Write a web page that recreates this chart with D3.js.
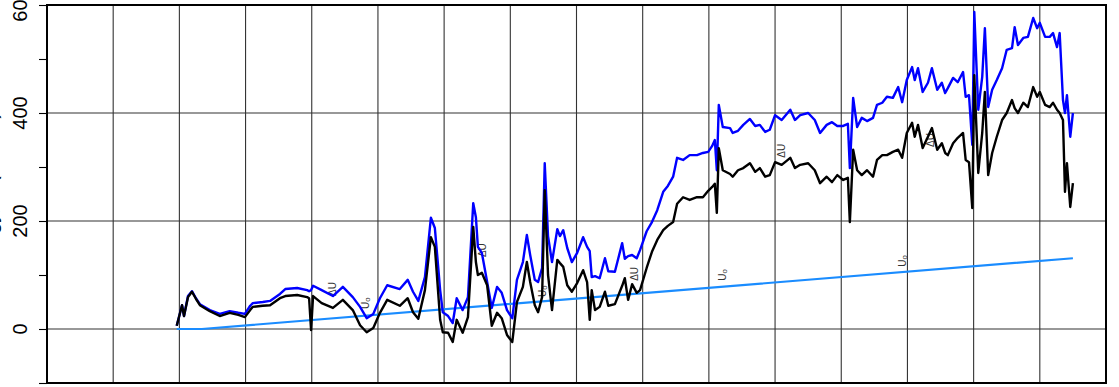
<!DOCTYPE html>
<html>
<head>
<meta charset="utf-8">
<script src="https://cdn.jsdelivr.net/npm/d3@7"></script>
<style>
  html, body { margin: 0; padding: 0; background: #fff; }
  svg { display: block; }
  text { font-family: "Liberation Sans", Arial, sans-serif; }
</style>
</head>
<body>
<svg id="chart" width="1119" height="387"></svg>
<script>
// Time axis (grid units) shared by U and ΔU
const t = [1.96,2.04,2.07,2.13,2.19,2.25,2.31,2.46,2.61,2.76,2.89,2.99,3.07,3.11,3.26,3.37,3.52,3.60,3.78,3.93,3.96,3.99,4.02,4.15,4.32,4.47,4.62,4.73,4.83,4.93,5.03,5.14,5.33,5.45,5.53,5.61,5.71,5.80,5.86,5.94,5.98,6.06,6.13,6.19,6.28,6.36,6.44,6.48,6.51,6.57,6.65,6.72,6.80,6.87,6.95,7.03,7.10,7.19,7.25,7.30,7.37,7.42,7.48,7.52,7.57,7.63,7.71,7.75,7.80,7.86,7.93,8.01,8.10,8.16,8.20,8.23,8.28,8.35,8.43,8.48,8.58,8.69,8.73,8.78,8.84,8.91,8.96,9.06,9.14,9.22,9.31,9.38,9.46,9.52,9.61,9.71,9.82,9.91,9.99,10.05,10.09,10.12,10.15,10.21,10.32,10.36,10.44,10.52,10.62,10.70,10.77,10.85,10.92,11.00,11.10,11.23,11.30,11.38,11.50,11.60,11.68,11.78,11.86,11.94,12.03,12.10,12.13,12.18,12.24,12.31,12.39,12.48,12.54,12.62,12.69,12.78,12.86,12.92,12.99,13.07,13.11,13.16,13.23,13.31,13.37,13.45,13.52,13.57,13.61,13.69,13.76,13.84,13.88,13.93,13.98,14.01,14.07,14.13,14.17,14.22,14.28,14.35,14.43,14.50,14.58,14.62,14.67,14.75,14.82,14.90,14.96,15.00,15.08,15.15,15.20,15.26,15.30,15.35,15.38,15.41,15.46,15.50];

// Total U (blue)
const seriesU = [6,44,24,61,70,57,46,35,28,33,30,28,43,48,50,52,65,74,76,72,70,72,80,72,61,78,59,41,20,28,57,81,74,91,69,52,96,206,187,72,31,24,11,57,35,59,233,207,152,141,87,39,78,67,35,20,91,124,174,137,91,87,113,307,172,124,185,172,183,150,124,141,170,152,144,96,98,94,131,107,106,159,130,135,137,131,146,181,198,220,254,265,282,317,313,322,322,326,328,339,350,294,415,374,372,363,367,378,389,376,378,365,369,396,387,406,387,396,400,387,363,378,383,376,376,380,298,428,374,391,385,391,415,419,430,428,448,420,461,485,461,483,439,456,483,443,456,437,446,465,457,476,430,433,341,587,406,467,557,411,443,461,483,517,520,559,526,539,541,576,557,567,541,541,548,522,548,424,400,433,356,400];

// ΔU (black)
const seriesDeltaU = [6,44,24,59,69,56,44,33,24,30,26,22,35,41,43,44,57,61,63,59,57,-2,61,48,39,54,35,7,-6,2,30,54,43,57,31,19,72,170,152,17,-6,-7,-24,17,-7,22,189,124,100,104,81,6,30,20,-11,-24,50,78,124,87,44,31,59,257,100,35,128,122,115,81,69,85,109,87,17,72,35,41,69,43,46,80,94,54,83,67,72,113,143,165,183,191,198,232,244,239,244,244,256,263,269,215,335,294,287,282,294,298,307,291,298,282,285,309,304,317,298,304,307,294,270,282,272,285,276,280,198,332,294,285,294,282,313,322,322,328,332,317,363,382,356,378,335,356,372,332,344,326,322,344,354,363,313,309,224,470,289,363,439,285,326,356,387,400,424,409,400,419,411,448,430,439,415,411,419,406,400,387,254,307,226,270];

// Reference level U₀ (light blue)
const tU0 = [1.96, 2.34, 15.50];
const seriesU0 = [0, 0, 131];

// Inline curve labels: main symbol and optional subscript
const labelMain = ["ΔU","U","ΔU","U","ΔU","U","ΔU","ΔU","U"];
const labelSub  = ["","o","","o","","o","","","o"];
const labelT    = [4.31, 4.80, 6.57, 7.48, 8.87, 10.20, 11.09, 13.34, 12.92];
const labelV    = [74, 48, 146, 70, 102, 100, 330, 350, 126];

// Axis ticks
const yMajorTicks = [0, 200, 400, 600];
const yMinorTicks = [-100, 100, 300, 500];
const xGridTicks = d3.range(0, 17);

const svg = d3.select("#chart");
const pL = 47, pR = 1106, pT = 5, pB = 383;

const x = d3.scaleLinear().domain([0, 16]).range([pL, pR]);
const y = d3.scaleLinear().domain([-100, 600]).range([pB, pT]);

// grid
svg.append("g").selectAll("line").data(xGridTicks.slice(1, -1)).join("line")
  .attr("x1", d => x(d)).attr("x2", d => x(d))
  .attr("y1", pT).attr("y2", pB)
  .attr("stroke", "#333").attr("stroke-width", 1.1);
svg.append("g").selectAll("line").data([0, 200, 400]).join("line")
  .attr("x1", pL).attr("x2", pR)
  .attr("y1", d => y(d)).attr("y2", d => y(d))
  .attr("stroke", "#333").attr("stroke-width", 1.1);

// y axis ticks and labels
const yAxis = d3.axisLeft(y)
  .tickValues(yMajorTicks.concat(yMinorTicks).sort((a, b) => a - b))
  .tickSize(8).tickFormat("");
const ag = svg.append("g").attr("transform", `translate(${pL},0)`).call(yAxis);
ag.select(".domain").remove();
ag.selectAll(".tick line").attr("stroke", "#000").attr("stroke-width", 1.1);

svg.append("g").selectAll("text").data(yMajorTicks).join("text")
  .attr("transform", d => `translate(26.5,${y(d)}) rotate(-90)`)
  .attr("text-anchor", "middle")
  .attr("font-size", 20)
  .attr("fill", "#000")
  .text(d => d);

// axis title (sits mostly beyond the left edge)
svg.append("text")
  .attr("transform", `translate(-3,${(pT + pB) / 2}) rotate(-90)`)
  .attr("text-anchor", "middle")
  .attr("font-size", 20)
  .text("Energy, U (kJ/mol)");

// curve labels
const labels = labelMain.map((m, i) => ({ main: m, sub: labelSub[i], t: labelT[i], v: labelV[i] }));
const lab = svg.append("g").selectAll("text").data(labels).join("text")
  .attr("transform", d => `translate(${x(d.t)},${y(d.v)}) rotate(-90)`)
  .attr("text-anchor", "middle")
  .attr("dominant-baseline", "central")
  .attr("font-size", 10)
  .attr("fill", "#333");
lab.append("tspan").text(d => d.main);
lab.filter(d => d.sub !== "")
  .append("tspan")
  .attr("font-size", 8)
  .attr("dy", 2)
  .text(d => d.sub);

const line = d3.line().x(d => x(d[0])).y(d => y(d[1]));

svg.append("path")
  .datum(tU0.map((d, i) => [d, seriesU0[i]]))
  .attr("d", line).attr("fill", "none")
  .attr("stroke", "#1a8cff").attr("stroke-width", 2.2);

svg.append("path")
  .datum(t.map((d, i) => [d, seriesU[i]]))
  .attr("d", line).attr("fill", "none")
  .attr("stroke", "#0000ff").attr("stroke-width", 2.4)
  .attr("stroke-linejoin", "round");

svg.append("path")
  .datum(t.map((d, i) => [d, seriesDeltaU[i]]))
  .attr("d", line).attr("fill", "none")
  .attr("stroke", "#000").attr("stroke-width", 2.4)
  .attr("stroke-linejoin", "round");

// frame
svg.append("rect")
  .attr("x", pL).attr("y", pT)
  .attr("width", pR - pL).attr("height", pB - pT)
  .attr("fill", "none").attr("stroke", "#000").attr("stroke-width", 2);
</script>
</body>
</html>
